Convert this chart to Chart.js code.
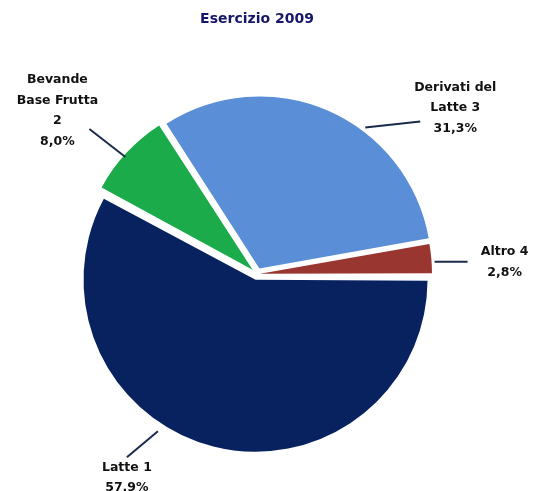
<!DOCTYPE html>
<html>
<head>
<meta charset="utf-8">
<title>Esercizio 2009</title>
<script src="https://cdn.jsdelivr.net/npm/chart.js@4.4.1/dist/chart.umd.min.js"></script>
<style>
  html,body{margin:0;padding:0;background:#fff;}
  #wrap{width:536px;height:491px;}
</style>
</head>
<body>
<div id="wrap"><canvas id="torta" width="536" height="491"></canvas></div>
<script>
const categorie=["Latte 1","Bevande Base Frutta 2","Derivati del Latte 3","Altro 4"];
const etichette=[["Latte 1"],["Bevande","Base Frutta","2"],["Derivati del","Latte 3"],["Altro 4"]];
const valori=[57.9,8.0,31.3,2.8];
const colori=["#07225f","#1bab4b","#5a8ed6","#993630"];

const raggio=172;
// posizione linee guida ed etichette (angolo in gradi dal centro, poi spostamento)
const guide=[
  {ang:122.2,gap:14,dx:-31,dy:26,tx:0,ty:10},
  {ang:221.6,gap:4,dx:-36,dy:-28,tx:-32,ty:-49},
  {ang:306.5,gap:10,dx:55,dy:-6,tx:35,ty:-34},
  {ang:356.1,gap:6,dx:33,dy:0,tx:37,ty:-10}
];

function perc(v){ return v.toFixed(1).replace(".",",")+"%"; }

// chart.js allarga il raggio delle fette staccate, lo riportiamo uguale per tutte
const raggioPlugin={
  id:"raggio",
  afterDatasetsUpdate(chart){
    chart.getDatasetMeta(0).data.forEach(a=>{
      const fix=1-Math.sin(Math.min(Math.PI,a.circumference));
      a.outerRadius=raggio-((a.options.offset||0)/4)*fix;
    });
  }
};

const etichettePlugin={
  id:"etichette",
  afterDatasetsDraw(chart){
    const ctx=chart.ctx;
    const arcs=chart.getDatasetMeta(0).data;
    ctx.save();
    arcs.forEach((a,i)=>{
      const g=guide[i];
      const r=raggio+g.gap;
      const rad=g.ang*Math.PI/180;
      const x1=a.x+Math.cos(rad)*r, y1=a.y+Math.sin(rad)*r;
      const x2=x1+g.dx, y2=y1+g.dy;
      ctx.strokeStyle="#1b2b4b"; ctx.lineWidth=2;
      ctx.beginPath(); ctx.moveTo(x1,y1); ctx.lineTo(x2,y2); ctx.stroke();
      const righe=etichette[i].concat([perc(valori[i])]);
      ctx.fillStyle="#111"; ctx.font="bold 12.5px 'DejaVu Sans'";
      ctx.textAlign="center"; ctx.textBaseline="middle";
      righe.forEach((t,k)=>{ ctx.fillText(t,x2+g.tx,y2+g.ty+k*20.5); });
    });
    ctx.restore();
  }
};

new Chart(document.getElementById("torta").getContext("2d"),{
  type:"pie",
  data:{
    labels:categorie,
    datasets:[{
      data:valori,
      backgroundColor:colori,
      borderWidth:0,
      offset:[24,24,24,12],
      radius:raggio,
      rotation:90
    }]
  },
  options:{
    responsive:false,
    animation:false,
    layout:{padding:{left:0,right:22,top:0,bottom:3}},
    plugins:{
      legend:{display:false},
      tooltip:{enabled:false},
      title:{
        display:true,
        text:"Esercizio 2009",
        color:"#16166a",
        font:{family:"'DejaVu Sans'",size:14,weight:"bold"},
        padding:{top:11,bottom:32}
      }
    }
  },
  plugins:[raggioPlugin,etichettePlugin]
});
</script>
</body>
</html>
